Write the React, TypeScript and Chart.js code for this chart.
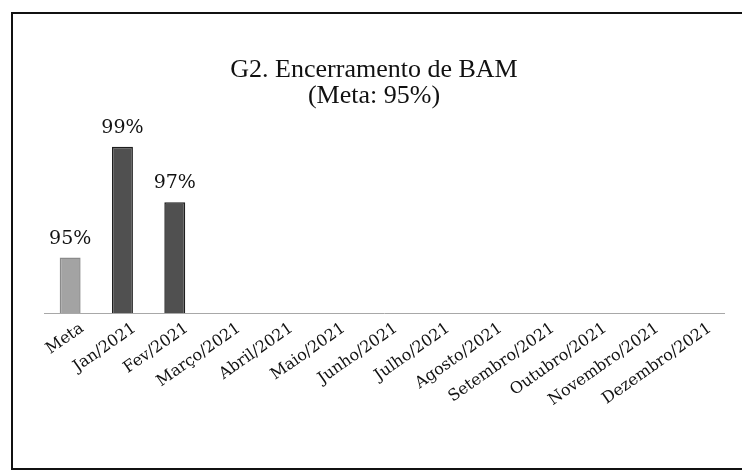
import React, { useEffect, useRef } from "react";
import { Chart, registerables } from "chart.js";

Chart.register(...registerables);

const categories = [
  "Meta",
  "Jan/2021",
  "Fev/2021",
  "Março/2021",
  "Abril/2021",
  "Maio/2021",
  "Junho/2021",
  "Julho/2021",
  "Agosto/2021",
  "Setembro/2021",
  "Outubro/2021",
  "Novembro/2021",
  "Dezembro/2021",
];
const values: (number | null)[] = [95, 99, 97, null, null, null, null, null, null, null, null, null, null];
const titleLines = ["G2. Encerramento de BAM", "(Meta: 95%)"];
const yMin = 93;
const yMax = 100;

const barColors = categories.map((_, i) => (i === 0 ? "#a3a3a3" : "#505050"));
const barBorders = categories.map((_, i) => (i === 0 ? "#8a8a8a" : "#1e1e1e"));

const SERIF = "DejaVu Serif, serif";

const valueLabels = {
  id: "valueLabels",
  afterDatasetsDraw(chart: any) {
    const ctx = chart.ctx;
    const meta = chart.getDatasetMeta(0);
    ctx.save();
    ctx.font = "19px " + SERIF;
    ctx.fillStyle = "#111";
    ctx.textAlign = "center";
    ctx.textBaseline = "middle";
    meta.data.forEach((el: any, i: number) => {
      const v = values[i];
      if (v == null) return;
      ctx.fillText(v + "%", el.x, el.y - 19);
    });
    ctx.restore();
  },
};

export default function App() {
  const ref = useRef<HTMLCanvasElement>(null);
  useEffect(() => {
    if (!ref.current) return;
    const chart = new Chart(ref.current, {
      type: "bar",
      data: {
        labels: categories,
        datasets: [
          {
            data: values,
            backgroundColor: barColors,
            borderColor: barBorders,
            borderWidth: 1.5,
            barPercentage: 0.4,
            categoryPercentage: 1,
          },
        ],
      },
      options: {
        responsive: false,
        animation: false,
        layout: { padding: { left: 24, right: 18, top: 0, bottom: 0 } },
        plugins: {
          legend: { display: false },
          tooltip: { enabled: false },
          title: {
            display: true,
            text: titleLines,
            color: "#111",
            font: { family: "Liberation Serif, serif", size: 26, weight: "normal", lineHeight: 1.0 },
            padding: { top: 57, bottom: 10 },
          },
        },
        scales: {
          x: {
            grid: { display: false, drawTicks: false },
            border: { display: true, color: "#a8a8a8", width: 1 },
            ticks: {
              color: "#111",
              font: { family: SERIF, size: 16 },
              minRotation: 35,
              maxRotation: 35,
              padding: 6,
              labelOffset: 12,
              autoSkip: false,
            },
            afterFit: (axis: any) => {
              axis.height = 162;
              axis.paddingLeft = 0;
              axis.paddingRight = 0;
            },
          },
          y: {
            display: true,
            min: yMin,
            max: yMax,
            grid: { display: false, drawTicks: false },
            border: { display: false },
            ticks: { display: false },
            afterFit: (axis: any) => {
              axis.width = 20;
            },
          },
        },
      },
      plugins: [valueLabels],
    });
    return () => chart.destroy();
  }, []);

  return (
    <div style={{ position: "fixed", left: 0, top: 0, width: 742, height: 475, overflow: "hidden", background: "#fff" }}>
      <canvas ref={ref} width={742} height={475} style={{ position: "absolute", left: 0, top: 0 }} />
      <div
        style={{
          position: "absolute",
          left: 11,
          top: 12,
          width: 780,
          height: 454,
          border: "2.5px solid #111",
          pointerEvents: "none",
        }}
      />
    </div>
  );
}
